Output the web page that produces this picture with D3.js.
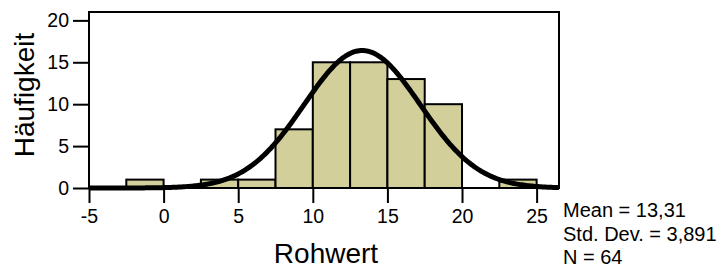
<!DOCTYPE html>
<html>
<head>
<meta charset="utf-8">
<script src="https://cdn.jsdelivr.net/npm/d3@7"></script>
<style>
  body { margin: 0; background: #fff; }
  svg { display: block; font-family: "Liberation Sans", Arial, sans-serif; }
</style>
</head>
<body>
<div id="chart"></div>
<script>
'use strict';

// histogram bins (lower edge, upper edge) and counts
const binStarts = [-2.5, 2.5, 5, 7.5, 10, 12.5, 15, 17.5, 22.5];
const binWidth = 2.5;
const counts = [1, 1, 1, 7, 15, 15, 13, 10, 1];

const xTicks = [-5, 0, 5, 10, 15, 20, 25];
const yTicks = [0, 5, 10, 15, 20];

const mean = 13.31;
const stdDev = 3.891;
const n = 64;
const statLines = ['Mean = 13,31', 'Std. Dev. = 3,891', 'N = 64'];

const width = 728;
const height = 269;
const margin = { top: 12, right: 169, bottom: 81, left: 89 };
const plotW = width - margin.left - margin.right;
const plotH = height - margin.top - margin.bottom;

const svg = d3.select('#chart')
  .append('svg')
  .attr('width', width)
  .attr('height', height);

const g = svg.append('g')
  .attr('transform', `translate(${margin.left}, ${margin.top})`);

const x = d3.scaleLinear()
  .domain([-5, 26.5])
  .range([0, plotW]);

const y = d3.scaleLinear()
  .domain([0, 21])
  .range([plotH, 0]);

// bars
g.selectAll('rect.bar')
  .data(binStarts.map((s, i) => ({ s, c: counts[i] })))
  .join('rect')
  .attr('class', 'bar')
  .attr('x', (d) => x(d.s))
  .attr('y', (d) => y(d.c))
  .attr('width', (d) => x(d.s + binWidth) - x(d.s))
  .attr('height', (d) => y(0) - y(d.c))
  .attr('fill', '#d3cf9b')
  .attr('stroke', '#000')
  .attr('stroke-width', 2);

// normal curve scaled to the histogram (N * bin width)
const normal = (v) => n * binWidth / (stdDev * Math.sqrt(2 * Math.PI)) *
  Math.exp(-0.5 * ((v - mean) / stdDev) ** 2);
const curvePts = d3.range(-5, 26.5 + 0.01, 0.1).map((v) => [v, normal(v)]);

g.append('path')
  .datum(curvePts)
  .attr('fill', 'none')
  .attr('stroke', '#000')
  .attr('stroke-width', 5)
  .attr('stroke-linejoin', 'round')
  .attr('d', d3.line().x((d) => x(d[0])).y((d) => y(d[1])));

// frame
g.append('rect')
  .attr('width', plotW)
  .attr('height', plotH)
  .attr('fill', 'none')
  .attr('stroke', '#000')
  .attr('stroke-width', 2);

// axes (plain hyphen for negatives, like the original)
const xAxis = d3.axisBottom(x)
  .tickValues(xTicks)
  .tickFormat((d) => String(d))
  .tickSize(15)
  .tickSizeOuter(0)
  .tickPadding(6);

const yAxis = d3.axisLeft(y)
  .tickValues(yTicks)
  .tickFormat((d) => String(d))
  .tickSize(16)
  .tickSizeOuter(0)
  .tickPadding(4);

const styleAxis = (sel) => {
  sel.select('.domain').remove();
  sel.selectAll('line').attr('stroke', '#000').attr('stroke-width', 2);
  sel.selectAll('text')
    .attr('fill', '#000')
    .style('font-size', '19.5px')
    .style('font-family', '"Liberation Sans", Arial, sans-serif');
};

g.append('g')
  .attr('transform', `translate(0, ${plotH})`)
  .call(xAxis)
  .call(styleAxis);

g.append('g')
  .call(yAxis)
  .call(styleAxis);

// axis titles
svg.append('text')
  .attr('x', margin.left + plotW / 2 + 2)
  .attr('y', 263)
  .attr('text-anchor', 'middle')
  .style('font-size', '28px')
  .text('Rohwert');

svg.append('text')
  .attr('transform', 'translate(34, 95) rotate(-90)')
  .attr('text-anchor', 'middle')
  .style('font-size', '28px')
  .text('Häufigkeit');

// statistics
svg.append('g')
  .selectAll('text')
  .data(statLines)
  .join('text')
  .attr('x', 563)
  .attr('y', (d, i) => 217 + i * 23.5)
  .style('font-size', '20px')
  .text((d) => d);
</script>
</body>
</html>
